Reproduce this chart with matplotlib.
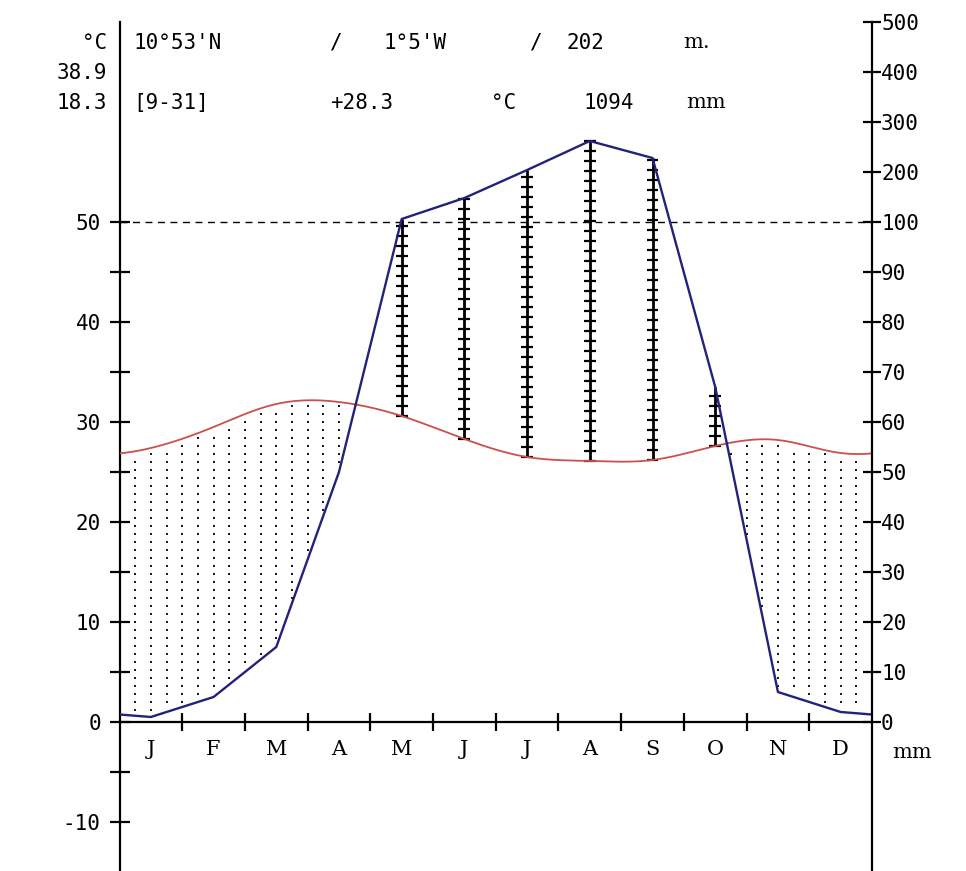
import numpy as np
import matplotlib
matplotlib.use("Agg")
import matplotlib.pyplot as plt

# ---------------- data ----------------
months = ["J", "F", "M", "A", "M", "J", "J", "A", "S", "O", "N", "D"]
temp_c = [27.4, 29.5, 31.8, 32.0, 30.6, 28.3, 26.5, 26.1, 26.2, 27.6, 28.2, 26.9]
precip_mm = [1, 5, 15, 50, 106, 148, 204, 262, 228, 67, 6, 2]

temp_major = [-10, 0, 10, 20, 30, 40, 50]
temp_minor = [-5, 5, 15, 25, 35, 45]
precip_ticks = [0, 10, 20, 30, 40, 50, 60, 70, 80, 90, 100, 200, 300, 400, 500]
precip_labels = ["0", "10", "20", "30", "40", "50", "60", "70", "80", "90",
                 "100", "200", "300", "400", "500"]

header_line1 = ["10°53'N", "/", "1°5'W", "/", "202", "m."]
header_line3 = ["[9-31]", "+28.3", "°C", "1094", "mm"]
left_header = ["°C", "38.9", "18.3"]

# ---------------- helpers ----------------
W, H = 966, 871
AX_L, AX_R = 119.5, 872.0
FS = 15


def p2y(p):
    p = np.asarray(p, dtype=float)
    return np.where(p <= 100, p / 2.0, 50.0 + (p - 100.0) / 20.0)


def periodic_spline(vals, xs):
    v = np.asarray(vals, float)
    n = len(v)
    A = np.zeros((n, n))
    b = np.zeros(n)
    for i in range(n):
        A[i, (i - 1) % n] = 1
        A[i, i] = 4
        A[i, (i + 1) % n] = 1
        b[i] = 6 * (v[(i - 1) % n] - 2 * v[i] + v[(i + 1) % n])
    M = np.linalg.solve(A, b)
    u = xs - 0.5
    i0 = np.floor(u).astype(int)
    t = u - i0
    a = i0 % n
    c = (i0 + 1) % n
    return ((1 - t) * v[a] + t * v[c]
            + ((1 - t) ** 3 - (1 - t)) * M[a] / 6 + (t ** 3 - t) * M[c] / 6)


def fx(x):
    return x / W


def fy(y):
    return 1 - y / H


# ---------------- figure ----------------
fig = plt.figure(figsize=(W / 100, H / 100), dpi=100)
ax = fig.add_axes([fx(AX_L), 0, (AX_R - AX_L) / W, 1])
ax.set_xlim(0, 12)
ax.set_ylim(-14.9, 72.2)
ax.patch.set_visible(False)

RED = "#c85050"
BLUE = "#22227a"

xs = np.linspace(0, 12, 1201)
tcurve = periodic_spline(temp_c, xs)
pvals = p2y(precip_mm)
edge = (pvals[0] + pvals[-1]) / 2
px_pts = np.concatenate([[0], np.arange(12) + 0.5, [12]])
py_pts = np.concatenate([[edge], pvals, [edge]])
pcurve = np.interp(xs, px_pts, py_pts)

# dry-season dots
dot_x, dot_y = [], []
for k in range(1, 48):
    xc = 0.25 * k
    tc = periodic_spline(temp_c, np.array([xc]))[0]
    pc = np.interp(xc, px_pts, py_pts)
    for j in range(0, 100):
        yr = 0.4 + 0.8 * j
        if pc + 0.35 < yr < tc - 0.35:
            dot_x.append(xc)
            dot_y.append(yr)
ax.scatter(dot_x, dot_y, s=2.6, marker="s", color="#1a1a1a", linewidths=0, zorder=2)

# wet-season hatch lines
for i in range(12):
    x = i + 0.5
    top = pvals[i]
    bot = temp_c[i]
    if top > bot:
        ax.plot([x, x], [bot, top], color="black", lw=2.0, zorder=3,
                solid_capstyle="butt")
        ys = np.arange(bot, top + 0.01, 1.0)
        ax.hlines(ys, x - 0.095, x + 0.095, color="black", lw=1.6, zorder=3)

# 100 mm dashed line
ax.plot([0, 12], [50, 50], color="black", lw=1.0, dashes=(5, 4), zorder=2)

# curves
ax.plot(xs, tcurve, color=RED, lw=1.3, zorder=4)
ax.plot(px_pts, py_pts, color=BLUE, lw=1.7, zorder=5)

# axes / spines
for s in ["top", "right"]:
    ax.spines[s].set_visible(False)
ax.spines["left"].set_bounds(-14.9, 70)
ax.spines["left"].set_linewidth(1.6)
ax.spines["bottom"].set_position(("data", 0))
ax.spines["bottom"].set_linewidth(1.6)

ax.set_yticks(temp_major)
ax.set_yticklabels([str(v) for v in temp_major])
ax.set_yticks(temp_minor, minor=True)
ax.tick_params(axis="y", which="both", direction="inout", length=14, width=1.6,
               labelsize=FS, pad=6.5)
for lab in ax.get_yticklabels():
    lab.set_fontfamily("DejaVu Sans Mono")

ax.set_xticks(range(1, 12))
ax.set_xticklabels([])
ax.set_xticks(np.arange(12) + 0.5, minor=True)
ax.set_xticklabels(months, minor=True)
ax.tick_params(axis="x", which="major", direction="inout", length=13, width=1.6)
ax.tick_params(axis="x", which="minor", length=0, pad=13, labelsize=15)
for lab in ax.get_xticklabels(minor=True):
    lab.set_fontfamily("DejaVu Serif")

ax2 = ax.twinx()
ax2.set_ylim(ax.get_ylim())
for s in ["top", "left", "bottom"]:
    ax2.spines[s].set_visible(False)
ax2.spines["right"].set_bounds(-14.9, 70)
ax2.spines["right"].set_linewidth(1.6)
ax2.set_yticks(p2y(precip_ticks))
ax2.set_yticklabels(precip_labels)
ax2.tick_params(axis="y", direction="inout", length=13, width=1.6,
                labelsize=FS, pad=0.0)
for lab in ax2.get_yticklabels():
    lab.set_fontfamily("DejaVu Sans Mono")

# texts
mono = dict(fontfamily="DejaVu Sans Mono", fontsize=FS, va="center")
fig.text(fx(912), fy(752), "mm", fontfamily="DejaVu Serif", fontsize=FS,
         ha="center", va="center")

lx1 = [133, 330, 383, 530, 566, 683]
for tok, x in zip(header_line1, lx1):
    fam = "DejaVu Serif" if tok == "m." else "DejaVu Sans Mono"
    fig.text(fx(x), fy(43), tok, ha="left", va="center", fontfamily=fam, fontsize=FS)
lx3 = [133, 330, 491, 583, 686]
for tok, x in zip(header_line3, lx3):
    fam = "DejaVu Serif" if tok == "mm" else "DejaVu Sans Mono"
    fig.text(fx(x), fy(103), tok, ha="left", va="center", fontfamily=fam, fontsize=FS)
ly = [43, 73, 103]
for tok, y in zip(left_header, ly):
    fig.text(fx(107), fy(y), tok, ha="right", **mono)

fig.savefig("out.png", dpi=100, facecolor="white")
